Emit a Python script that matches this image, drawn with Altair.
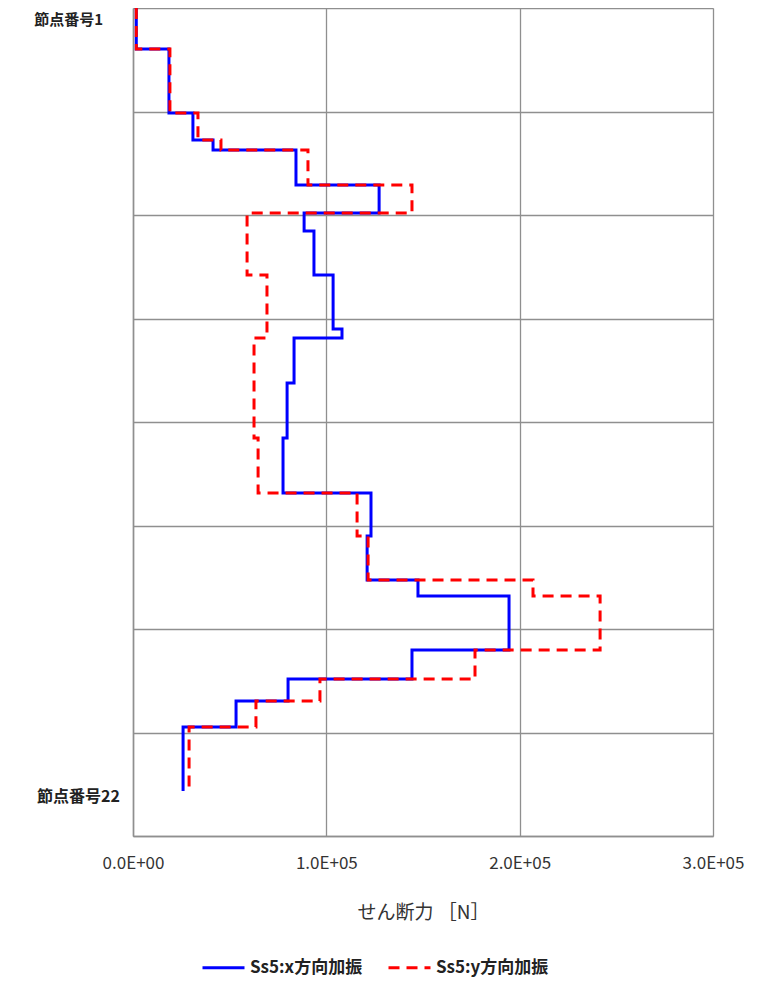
import altair as alt
import pandas as pd

# node positions (grid units from the top, 8 grid divisions in total), nodes 1..22
node_depth = [0.0, 0.396, 1.014, 1.275, 1.372, 1.710, 1.981, 2.155, 2.580, 3.101, 3.188,
              3.623, 4.155, 4.686, 5.101, 5.527, 5.681, 6.203, 6.483, 6.696, 6.947, 7.565]

# shear force [N] for each element (between consecutive nodes), 21 values
shear_x = [1700, 18600, 31000, 41400, 84300, 127300, 88500, 93600, 103500, 108100, 83300,
           79700, 77600, 123100, 121100, 147400, 194500, 144300, 80200, 53300, 25900]
shear_y = [1700, 19100, 33600, 45500, 90500, 144300, 59000, 59000, 69300, 69300, 62600,
           62600, 64700, 115900, 121600, 206900, 241600, 176900, 96700, 63600, 29000]

series_names = ["Ss5:x方向加振", "Ss5:y方向加振"]
node_labels = ["節点番号1", "節点番号22"]
x_ticks = [0, 100000, 200000, 300000]

rows = []
for name, vals in zip(series_names, [shear_x, shear_y]):
    for i, v in enumerate(vals):
        rows.append({"series": name, "shear": v, "depth": node_depth[i], "ord": 2 * i})
        rows.append({"series": name, "shear": v, "depth": node_depth[i + 1], "ord": 2 * i + 1})
df = pd.DataFrame(rows)

FONT = "Noto Sans CJK JP"

xscale = alt.Scale(domain=[0, 300000], nice=False, zero=True)
yscale = alt.Scale(domain=[0, 8], nice=False, reverse=True)

legend_cfg = dict(title=None, orient="none", direction="horizontal",
                  legendX=68, legendY=937,
                  symbolType="stroke", symbolSize=1764, symbolStrokeWidth=3,
                  labelFont=FONT, labelFontSize=17, labelFontWeight="bold",
                  labelColor="#222222", labelOffset=4, columnPadding=19,
                  padding=0)

lines = alt.Chart(df).mark_line(strokeWidth=3, strokeCap="butt", strokeJoin="miter").encode(
    x=alt.X("shear:Q", scale=xscale,
            axis=alt.Axis(values=x_ticks, title="せん断力 ［N］",
                          labelExpr="format(datum.value/100000, '.1f') + (datum.value == 0 ? 'E+00' : 'E+05')",
                          labelFlush=False, labelBound=False,
                          grid=True, gridColor="#8f8f8f", gridWidth=1.3,
                          domainColor="#8f8f8f", domainWidth=1.5, ticks=False,
                          labelFont=FONT, labelFontSize=17, labelColor="#333333", labelPadding=19,
                          titleFont=FONT, titleFontSize=19, titleFontWeight="normal",
                          titleColor="#333333", titlePadding=32)),
    y=alt.Y("depth:Q", scale=yscale,
            axis=alt.Axis(values=list(range(9)), labels=False, ticks=False, title=None,
                          grid=True, gridColor="#8f8f8f", gridWidth=1.3,
                          domainColor="#8f8f8f", domainWidth=1.5)),
    color=alt.Color("series:N", scale=alt.Scale(domain=series_names, range=["#0000FF", "#FF0000"]),
                    legend=alt.Legend(**legend_cfg)),
    strokeDash=alt.StrokeDash("series:N", scale=alt.Scale(domain=series_names, range=[[1, 0], [11, 7]]),
                              legend=alt.Legend(**legend_cfg)),
    order="ord:Q",
)

lab_df = pd.DataFrame({"label": node_labels, "depth": [node_depth[0], node_depth[-1]]})

lab1 = alt.Chart(lab_df.iloc[[0]]).mark_text(
    align="right", baseline="middle", dy=12, font=FONT, fontSize=15, fontWeight="bold", color="#222222"
).encode(x=alt.value(-30), y=alt.Y("depth:Q", scale=yscale), text="label:N")

lab22 = alt.Chart(lab_df.iloc[[1]]).mark_text(
    align="right", baseline="middle", dy=6, font=FONT, fontSize=16, fontWeight="bold", color="#222222"
).encode(x=alt.value(-13), y=alt.Y("depth:Q", scale=yscale), text="label:N")

chart = alt.layer(lines, lab1, lab22).properties(
    width=580, height=828,
    autosize=alt.AutoSizeParams(type="none"),
    padding={"left": 125, "top": 0, "right": 41, "bottom": 150},
).configure_view(stroke=None).configure(background="white")

chart.save("out.html", embed_options={"renderer": "svg", "actions": False})
